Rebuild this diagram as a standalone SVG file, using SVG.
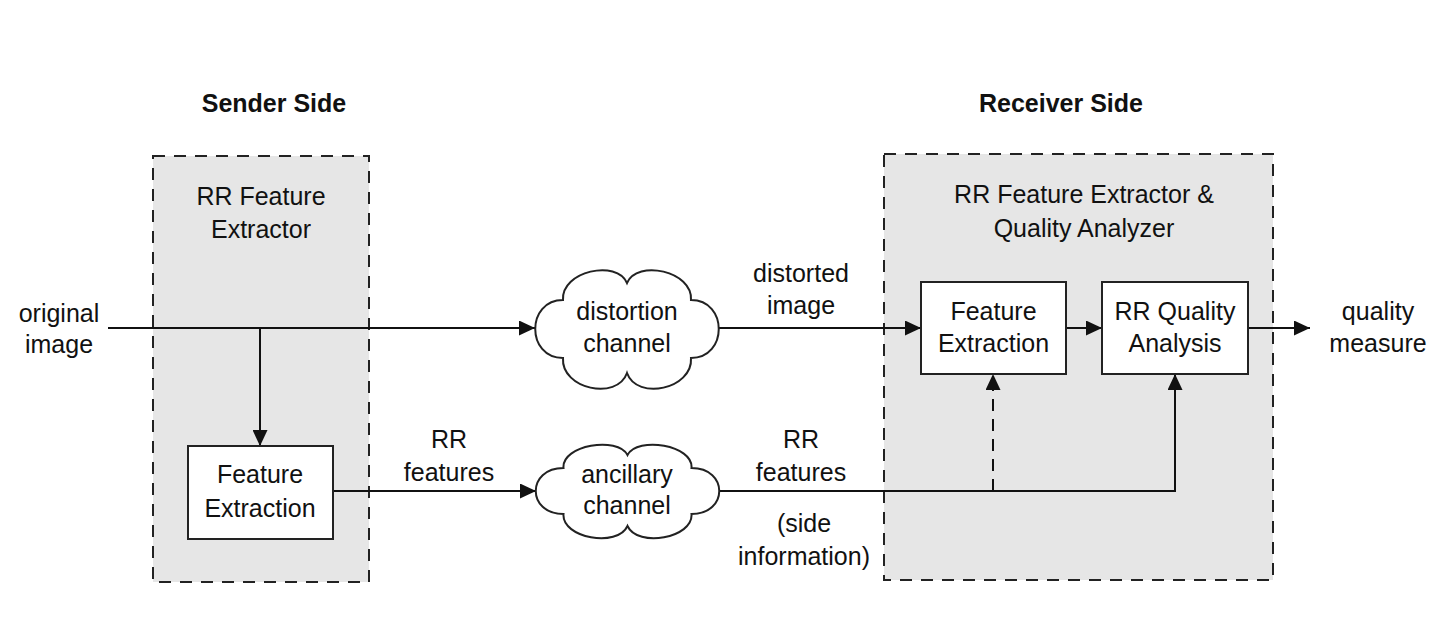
<svg xmlns="http://www.w3.org/2000/svg" width="1436" height="625" viewBox="0 0 1436 625">
<style>
text{font-family:"Liberation Sans",Arial,sans-serif;font-size:25px;fill:#111;text-anchor:middle}
.title{font-weight:bold}
.group{fill:#e6e6e6;stroke:#222;stroke-width:2;stroke-dasharray:12 9}
.box{fill:#fff;stroke:#222;stroke-width:2}
.cloud{fill:#fff;stroke:#222;stroke-width:2}
.conn{fill:none;stroke:#111;stroke-width:2}
.dash{stroke-dasharray:12 8}
</style>
<defs>
<marker id="arr" markerUnits="userSpaceOnUse" markerWidth="16" markerHeight="15" viewBox="0 0 16 15" refX="16" refY="7.5" orient="auto">
<path d="M0,0 L16,7.5 L0,15 Z" fill="#111"/>
</marker>
</defs>
<rect width="1436" height="625" fill="#fff"/>
<g id="sender-side">
<text class="title" x="274" y="112">Sender Side</text>
<rect class="group" x="153" y="156" width="216" height="426"/>
<text x="261" y="205">RR Feature</text>
<text x="261" y="238">Extractor</text>
</g>
<g id="receiver-side">
<text class="title" x="1061" y="112">Receiver Side</text>
<rect class="group" x="884" y="154" width="389" height="426"/>
<text x="1084" y="203">RR Feature Extractor &amp;</text>
<text x="1084" y="237">Quality Analyzer</text>
</g>
<g id="connectors">
<path class="conn" d="M108,328 H535" marker-end="url(#arr)"/>
<path class="conn" d="M719,328 H921" marker-end="url(#arr)"/>
<path class="conn" d="M1066,328 H1102" marker-end="url(#arr)"/>
<path class="conn" d="M1248,328 H1310" marker-end="url(#arr)"/>
<path class="conn" d="M260,328 V446" marker-end="url(#arr)"/>
<path class="conn" d="M333,491 H536" marker-end="url(#arr)"/>
<path class="conn" d="M719,491 H1175 V374" marker-end="url(#arr)"/>
<path class="conn dash" d="M993,491 V374" marker-end="url(#arr)"/>
</g>
<g id="labels">
<text x="59" y="322">original</text>
<text x="59" y="353">image</text>
<text x="801" y="282">distorted</text>
<text x="801" y="314">image</text>
<text x="449" y="448">RR</text>
<text x="449" y="481">features</text>
<text x="801" y="448">RR</text>
<text x="801" y="481">features</text>
<text x="804" y="532">(side</text>
<text x="804" y="565">information)</text>
<text x="1378" y="320">quality</text>
<text x="1378" y="352">measure</text>
</g>
<g id="distortion-channel">
<path class="cloud" transform="translate(627,329)" d="M-64,29 C-101,29 -101,-29 -64,-29 C-66,-58 -10,-70 0,-46 C10,-70 66,-58 64,-29 C101,-29 101,29 64,29 C66,60 10,72 0,44 C-10,72 -66,60 -64,29 Z"/>
<text x="627" y="320">distortion</text>
<text x="627" y="352">channel</text>
</g>
<g id="ancillary-channel">
<path class="cloud" transform="translate(627.5,491)" d="M-64,23 C-101,23 -101,-23 -64,-23 C-66,-46 -10,-55 0,-36 C10,-55 66,-46 64,-23 C101,-23 101,23 64,23 C66,47 10,57 0,35 C-10,57 -66,47 -64,23 Z"/>
<text x="627" y="483">ancillary</text>
<text x="627" y="514">channel</text>
</g>
<g id="sender-feature-extraction">
<rect class="box" x="188" y="446" width="145" height="93"/>
<text x="260" y="483">Feature</text>
<text x="260" y="517">Extraction</text>
</g>
<g id="receiver-feature-extraction">
<rect class="box" x="921" y="282" width="145" height="92"/>
<text x="993.5" y="320">Feature</text>
<text x="993.5" y="352">Extraction</text>
</g>
<g id="rr-quality-analysis">
<rect class="box" x="1102" y="282" width="146" height="92"/>
<text x="1175" y="320">RR Quality</text>
<text x="1175" y="352">Analysis</text>
</g>
</svg>
